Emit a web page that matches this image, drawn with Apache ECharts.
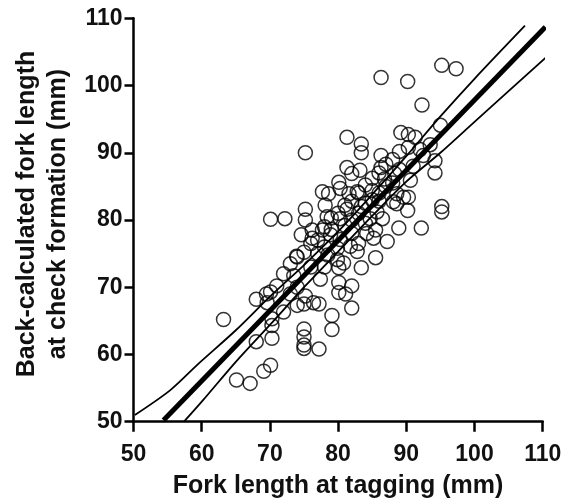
<!DOCTYPE html>
<html>
<head>
<meta charset="utf-8">
<script src="https://cdn.jsdelivr.net/npm/echarts@6/dist/echarts.min.js"></script>
<style>
  html, body { margin: 0; padding: 0; background: #fff; }
  #chart { width: 568px; height: 504px; }
</style>
</head>
<body>
<div id="chart"></div>
<script>
// 坐标轴刻度
const ticks = [50, 60, 70, 80, 90, 100, 110]

// 散点: [标记时叉长, 回推叉长]
const fish = [
  [95.2,103.0],[97.3,102.5],[86.3,101.2],[90.2,100.6],[92.3,97.1],[95.0,94.1],
  [89.2,93.0],[90.3,92.7],[91.3,92.3],[81.3,92.3],[83.4,91.3],[83.4,90.0],[75.2,90.0],
  [90.3,90.8],[92.5,89.6],[94.2,88.8],[94.2,87.0],[86.3,89.6],[86.3,87.8],[81.3,87.8],
  [82.0,86.9],[83.2,87.4],[88.3,86.9],[86.8,86.1],[90.6,85.9],[80.1,85.6],[80.3,84.7],
  [77.7,84.2],[78.6,83.9],[81.6,83.9],[82.8,84.2],[85.0,84.4],[88.6,83.9],[89.6,83.4],
  [90.3,83.4],[88.1,82.7],[78.1,82.2],[88.6,82.4],[95.2,82.0],[95.2,81.2],[90.2,81.4],
  [81.3,81.6],[75.2,81.6],[83.4,82.0],[85.7,81.2],[70.1,80.1],[72.2,80.2],[75.2,80.0],
  [80.3,80.2],[78.4,80.5],[84.7,80.2],[86.5,80.2],[76.2,78.5],[77.7,78.5],[74.6,77.8],
  [76.2,77.3],[85.5,78.5],[84.2,78.0],[88.9,78.8],[92.2,78.8],[87.2,76.8],[85.2,77.3],
  [78.9,77.8],[80.3,77.1],[79.9,75.8],[81.8,76.1],[82.8,75.3],[85.5,74.4],[73.9,74.6],
  [79.9,74.1],[80.8,73.6],[83.4,72.9],[80.1,72.9],[77.4,71.2],[73.5,71.7],[80.1,70.7],
  [80.1,69.2],[82.0,70.2],[81.1,69.0],[82.0,66.9],[76.4,67.7],[77.2,67.5],[74.0,67.3],
  [75.0,67.5],[75.2,68.7],[72.0,66.3],[79.1,65.8],[79.1,63.7],[75.0,63.8],[75.0,62.6],
  [75.0,61.4],[75.0,60.9],[77.2,60.8],[68.0,68.2],[70.1,69.3],[69.6,67.7],[70.3,65.3],
  [70.3,64.3],[70.3,62.4],[68.0,61.9],[63.2,65.2],[70.1,58.4],[69.1,57.5],[65.1,56.2],[67.1,55.7],
  [72,72],[73,73.5],[74,74.5],[75,75.2],[76,76.5],[77,77],[78,79],[79,80.3],[80,81],
  [81,82.2],[82,82.8],[83,84],[84,85.2],[85,86.2],[86,87],[87,88.3],[88,89],[89,90.2],
  [71,70.2],[69.5,69],[76,73],[77,75],[78,76],[79,78.6],[81,79.2],[82,80],[83,81],
  [84,82.5],[85,83],[86,84],[87,85],[88,85.5],[84,79.5],[82,78],[78.5,74.8],[78,73],
  [83,76.5],[86,82.8],[89,87.5],[91,88],[92,90.5],[93.5,91.2],[74,70],[73,69]
]

// 回归线与置信带
const fitLine = [[54.4, 50.2], [110.4, 108.7]]
const upperBand = [[50.2,51.0],[55.4,54.7],[59.5,58.6],[65,63.6],[70,68.6],[75,73.3],[80,78.3],[85,83.8],[90,89.5],[95,95.4],[100,101.0],[107.4,108.9]]
const lowerBand = [[57.4,50.0],[60.2,53.2],[65,58.9],[70,64.4],[75,70.0],[80,75.3],[85,80.6],[90,85.7],[95,90.0],[100,94.6],[110.4,104.1]]

const chart = echarts.init(document.getElementById('chart'))
const font = 'Liberation Sans, Arial, sans-serif'

function axis(name, extra) {
  return Object.assign({
    type: 'value',
    min: ticks[0],
    max: ticks[ticks.length - 1],
    interval: 10,
    name: name,
    nameLocation: 'middle',
    nameTextStyle: { color: '#111', fontSize: 25, fontWeight: 'bold', fontFamily: font },
    axisLine: { show: true, lineStyle: { color: '#000', width: 2.5 } },
    splitLine: { show: false }
  }, extra)
}

var option = {
  animation: false,
  grid: { left: 133.5, right: 25.3, top: 18.3, bottom: 82.3 },
  xAxis: axis('Fork length at tagging (mm)', {
    nameGap: 52,
    axisTick: { show: true, length: 10, lineStyle: { color: '#000', width: 2.5 } },
    axisLabel: { color: '#111', fontSize: 23, fontWeight: 'bold', fontFamily: font, margin: 21 }
  }),
  yAxis: axis('Back-calculated fork length\nat check formation (mm)', {
    nameGap: 57,
    nameRotate: 90,
    nameTextStyle: { color: '#111', fontSize: 25, fontWeight: 'bold', fontFamily: font, lineHeight: 31, padding: [0, 0, 0, 12] },
    axisTick: { show: true, length: 9, lineStyle: { color: '#000', width: 2.5 } },
    axisLabel: { color: '#111', fontSize: 23, fontWeight: 'bold', fontFamily: font, margin: 11 }
  }),
  series: [
    {
      type: 'scatter',
      data: fish,
      symbol: 'circle',
      symbolSize: 14,
      itemStyle: { color: 'rgba(255,255,255,0)', borderColor: '#000', borderWidth: 1.5 },
      z: 2
    },
    {
      type: 'line',
      data: upperBand,
      showSymbol: false,
      smooth: 0.3,
      clip: false,
      lineStyle: { color: '#000', width: 1.8 },
      z: 3
    },
    {
      type: 'line',
      data: lowerBand,
      showSymbol: false,
      smooth: 0.3,
      clip: false,
      lineStyle: { color: '#000', width: 1.8 },
      z: 3
    },
    {
      type: 'line',
      data: fitLine,
      showSymbol: false,
      clip: false,
      lineStyle: { color: '#000', width: 5 },
      z: 4
    }
  ]
}
chart.setOption(option)
</script>
</body>
</html>
